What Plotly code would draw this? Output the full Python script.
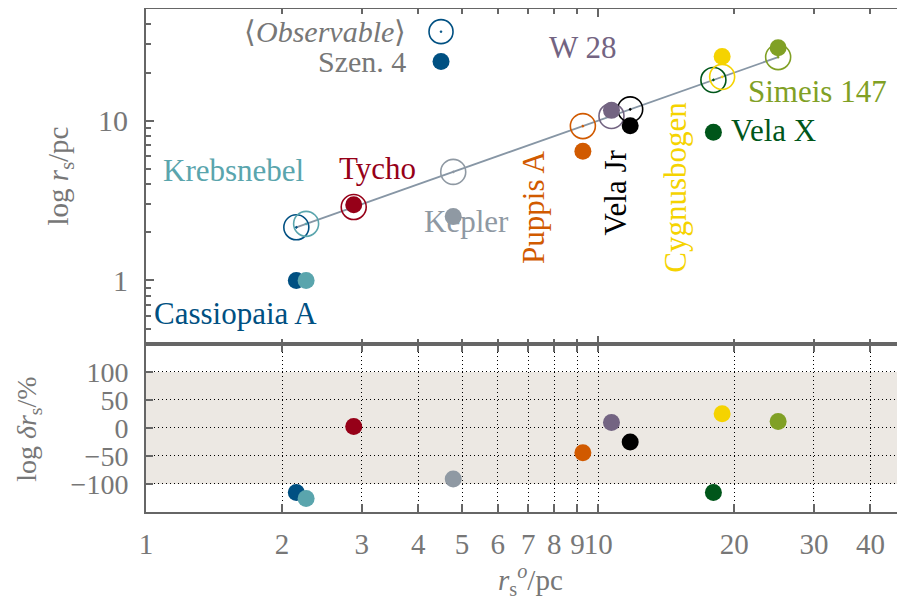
import math
import plotly.graph_objects as go

# ---------------- data ----------------
names = ["Cassiopaia A", "Krebsnebel", "Tycho", "Kepler", "Puppis A",
         "W 28", "Vela Jr", "Vela X", "Cygnusbogen", "Simeis 147"]
r_obs = [2.15, 2.26, 2.88, 4.78, 9.25, 10.7, 11.77, 17.98, 18.8, 25.0]
r_szen4 = [1.0, 1.0, 2.98, 2.51, 6.43, 11.6, 9.3, 8.45, 25.2, 28.6]
delta_pct = [-115, -126, 2.6, -91, -44, 9.8, -25, -115, 25.4, 11.6]
colors = ["#005082", "#5aa5ad", "#960018", "#8f99a3", "#d15a00",
          "#736482", "#000000", "#00561a", "#f5d300", "#80a025"]

x_tickvals = [1, 2, 3, 4, 5, 6, 7, 8, 9, 10, 20, 30, 40]
x_ticktext = ["1", "2", "3", "4", "5", "6", "7", "8", "9", "10", "20", "30", "40"]
y_top_major = [1, 10]
y_top_minor = [0.4, 0.5, 0.6, 0.7, 0.8, 0.9, 2, 3, 4, 5, 6, 7, 8, 9, 20, 30, 40, 50]
y_bot_tickvals = [-100, -50, 0, 50, 100]
y_bot_ticktext = ["\u2212100", "\u221250", "0", "50", "100"]

# label placement (data coords, angle)
label_pos = [(1.58, 0.622, 0), (1.56, 4.87, 0), (3.25, 5.0, 0), (5.11, 2.34, 0),
             (7.19, 2.86, -90), (9.22, 28.6, 0), (10.9, 3.56, -90),
             (24.4, 8.66, 0), (14.8, 3.81, -90), (30.6, 15.2, 0)]

FONT = "Liberation Serif"
GRAY = "#777777"
AX = "#666666"

fig = go.Figure()

# fit line through observables
order = sorted(range(len(r_obs)), key=lambda i: r_obs[i])
fig.add_trace(go.Scatter(x=[r_obs[order[0]], r_obs[order[-1]]],
                         y=[r_obs[order[0]], r_obs[order[-1]]],
                         mode="lines", line=dict(color="#8796a5", width=1.8),
                         xaxis="x", yaxis="y", showlegend=False, hoverinfo="skip"))

for i in range(len(names)):
    fig.add_trace(go.Scatter(x=[r_obs[i]], y=[r_obs[i]], mode="markers",
                             marker=dict(symbol="circle-open-dot", size=25, color=colors[i],
                                         line=dict(width=1.6, color=colors[i])),
                             xaxis="x", yaxis="y", showlegend=False))
for i in range(len(names)):
    fig.add_trace(go.Scatter(x=[r_obs[i]], y=[r_szen4[i]], mode="markers",
                             marker=dict(symbol="circle", size=17, color=colors[i]),
                             xaxis="x", yaxis="y", showlegend=False))
    fig.add_trace(go.Scatter(x=[r_obs[i]], y=[delta_pct[i]], mode="markers",
                             marker=dict(symbol="circle", size=17, color=colors[i]),
                             xaxis="x2", yaxis="y2", showlegend=False))

annotations = []
for i, (lx, ly, ang) in enumerate(label_pos):
    annotations.append(dict(x=math.log10(lx), y=math.log10(ly), xref="x", yref="y",
                            xanchor="center", yanchor="middle",
                            text=names[i], showarrow=False, textangle=ang,
                            font=dict(family=FONT, size=31, color=colors[i])))

# legend (drawn manually: text left, symbol right)
annotations.append(dict(x=0.345, y=0.955, xref="paper", yref="paper", xanchor="right",
                        yanchor="middle",
                        text="\u27e8<i>Observable</i>\u27e9", showarrow=False,
                        font=dict(family=FONT, size=30, color=GRAY)))
annotations.append(dict(x=0.345, y=0.8955, xref="paper", yref="paper", xanchor="right",
                        yanchor="middle",
                        text="Szen. 4", showarrow=False,
                        font=dict(family=FONT, size=30, color=GRAY)))

# axis titles
annotations.append(dict(x=-0.113, y=0.6675, xref="paper", yref="paper", textangle=-90,
                        xanchor="center", yanchor="middle",
                        text="log <i>r</i><sub>s</sub>/pc", showarrow=False,
                        font=dict(family=FONT, size=29, color=GRAY)))
annotations.append(dict(x=-0.155, y=0.164, xref="paper", yref="paper", textangle=-90,
                        xanchor="center", yanchor="middle",
                        text="log <i>\u03b4r</i><sub>s</sub>/%", showarrow=False,
                        font=dict(family=FONT, size=28, color=GRAY)))
annotations.append(dict(x=0.506, y=-0.135, xref="paper", yref="paper",
                        xanchor="center", yanchor="middle",
                        text="<i>r</i><sub>s</sub><sup><i>o</i></sup>/pc", showarrow=False,
                        font=dict(family=FONT, size=29, color=GRAY)))

lx, ly = 0.3887, 0.955
shapes = [
    dict(type="rect", xref="x2 domain", yref="y2", x0=0, x1=1, y0=-100, y1=100,
         fillcolor="#ece8e3", line=dict(width=0), layer="below"),
    dict(type="circle", xref="paper", yref="paper", xsizemode="pixel", ysizemode="pixel",
         xanchor=lx, yanchor=ly, x0=-12, x1=12, y0=-12, y1=12,
         line=dict(color=colors[0], width=1.6)),
    dict(type="circle", xref="paper", yref="paper", xsizemode="pixel", ysizemode="pixel",
         xanchor=lx, yanchor=ly, x0=-1, x1=1, y0=-1, y1=1,
         fillcolor=colors[0], line=dict(color=colors[0], width=0.5)),
    dict(type="circle", xref="paper", yref="paper", xsizemode="pixel", ysizemode="pixel",
         xanchor=lx, yanchor=0.8955, x0=-8.5, x1=8.5, y0=-8.5, y1=8.5,
         fillcolor=colors[0], line=dict(width=0)),
]

xr = [0, math.log10(47.7)]
common_x = dict(type="log", range=xr, showline=True, linecolor=AX, linewidth=2,
                mirror="ticks", ticks="inside", tickcolor=AX, tickwidth=1.5,
                zeroline=False, automargin=False)
DOT = "1px,3px"

fig.update_layout(
    width=897, height=595,
    margin=dict(l=138, r=0, t=1, b=91, autoexpand=False),
    paper_bgcolor="white", plot_bgcolor="white",
    font=dict(family=FONT, color=GRAY),
    showlegend=False,
    xaxis=dict(**common_x, domain=[0, 1], anchor="y", showticklabels=False,
               tickmode="array", tickvals=[10], ticklen=8, showgrid=False,
               minor=dict(tickmode="array", tickvals=[2, 3, 4, 5, 6, 7, 8, 9, 20, 30, 40],
                          ticklen=5, ticks="inside", tickcolor=AX, tickwidth=1.5,
                          showgrid=False)),
    yaxis=dict(type="log", domain=[0.334, 1], anchor="x",
               range=[math.log10(0.4), math.log10(50)], automargin=False,
               showline=True, linecolor=AX, linewidth=2, mirror=False,
               ticks="inside", tickcolor=AX, tickwidth=1.5, ticklen=8,
               tickmode="array", tickvals=y_top_major, ticktext=["1", "10"],
               ticklabelstandoff=10, showgrid=False, zeroline=False,
               tickfont=dict(family=FONT, size=30, color=GRAY),
               minor=dict(tickmode="array", tickvals=y_top_minor, ticklen=5,
                          ticks="inside", tickcolor=AX, tickwidth=1.5, showgrid=False)),
    xaxis2=dict(**common_x, domain=[0, 1], anchor="y2", matches="x",
                tickmode="array", tickvals=x_tickvals, ticktext=x_ticktext, ticklen=8,
                ticklabelstandoff=5, tickangle=0,
                tickfont=dict(family=FONT, size=29, color=GRAY),
                showgrid=True, gridcolor="#000000", gridwidth=1, griddash=DOT),
    yaxis2=dict(domain=[0, 0.334], anchor="x2", range=[-150, 150], automargin=False,
                showline=True, linecolor=AX, linewidth=2, mirror=False,
                ticks="inside", tickcolor=AX, tickwidth=1.5, ticklen=7,
                tickmode="array", tickvals=y_bot_tickvals, ticktext=y_bot_ticktext,
                ticklabelstandoff=10,
                tickfont=dict(family=FONT, size=28, color=GRAY),
                showgrid=True, gridcolor="#000000", gridwidth=1, griddash=DOT,
                zeroline=False),
    annotations=annotations,
    shapes=shapes,
)

fig.write_html("out.html")
